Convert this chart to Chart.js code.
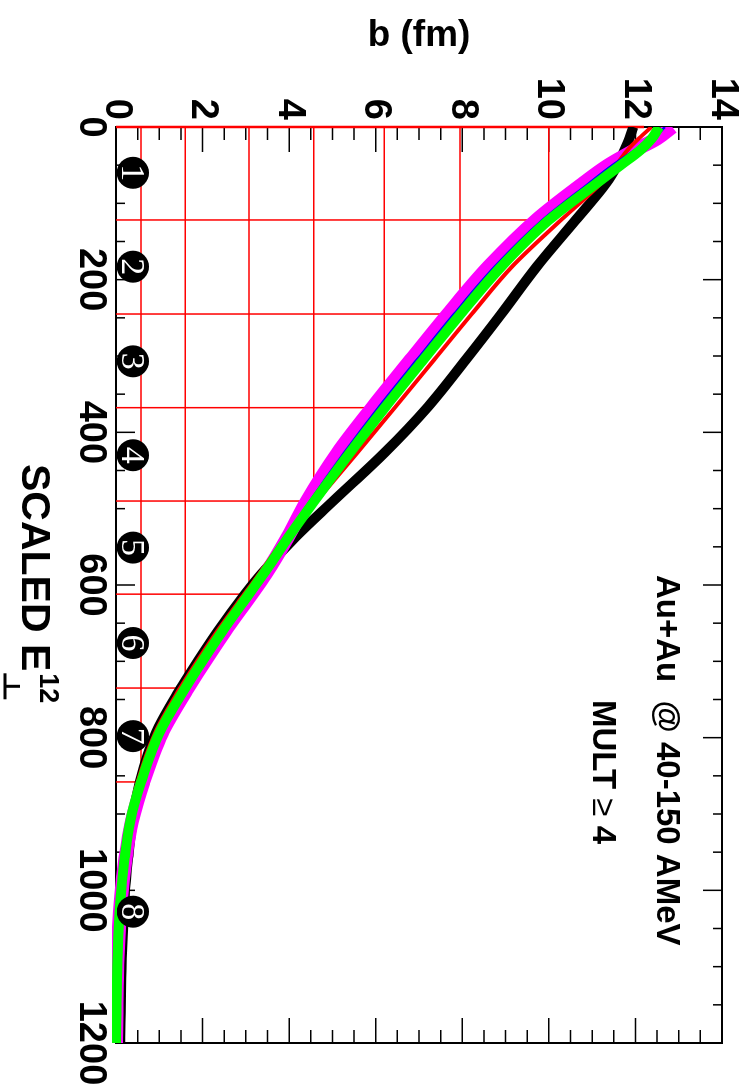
<!DOCTYPE html>
<html lang="en">
<head>
<meta charset="UTF-8">
<title>b vs scaled E12</title>
<script src="https://cdn.jsdelivr.net/npm/chart.js"></script>
<style>
  html, body { margin: 0; padding: 0; background: #fff; overflow: hidden; }
  body { width: 752px; height: 1090px; position: relative; }
  /* the figure is drawn upright and then turned a quarter turn clockwise */
  #wrap { position: absolute; left: 0; top: 0; width: 1090px; height: 752px;
          transform-origin: 0 0; transform: translateX(752px) rotate(90deg); }
</style>
</head>
<body>
<div id="wrap"><canvas id="grafico" width="1090" height="752"></canvas></div>
<script>
// scaled E (x) where the curves were read
const escalaE = [0, 15, 30, 50, 74, 122, 183, 245, 305, 367, 427, 491, 537, 586, 612, 661, 715, 735, 794, 858, 909, 958, 1008, 1082, 1200];

// b (fm) for each curve
const bPreto    = [11.95, 11.86, 11.75, 11.58, 11.32, 10.62, 9.72, 8.9, 8.08, 7.2, 6.2, 5.0, 4.15, 3.35, 2.98, 2.35, 1.72, 1.5, 0.92, 0.55, 0.38, 0.28, 0.2, 0.14, 0.1];
const bVermelho = [12.37, 12.08, 11.82, 11.55, 11.2, 10.28, 9.15, 8.22, 7.35, 6.45, 5.57, 4.62, 3.93, 3.3, 2.96, 2.33, 1.7, 1.48, 0.9, 0.5, 0.3, 0.19, 0.11, 0.05, 0.02];
const bAzul     = [12.68, 12.42, 12.0, 11.47, 10.92, 9.85, 8.75, 7.81, 6.95, 6.07, 5.27, 4.47, 3.93, 3.37, 3.05, 2.44, 1.82, 1.6, 1.0, 0.58, 0.33, 0.2, 0.11, 0.04, 0.0];
const bMagenta  = [12.85, 12.5, 12.0, 11.38, 10.79, 9.71, 8.61, 7.67, 6.81, 5.93, 5.12, 4.4, 3.97, 3.45, 3.13, 2.51, 1.88, 1.66, 1.06, 0.63, 0.37, 0.22, 0.12, 0.04, 0.0];
const bVerde    = [12.55, 12.38, 12.12, 11.66, 11.1, 10.0, 8.9, 7.96, 7.1, 6.22, 5.4, 4.57, 3.99, 3.4, 3.07, 2.45, 1.82, 1.6, 1.0, 0.58, 0.33, 0.2, 0.11, 0.04, 0.0];

// red boxes: bin edge in E and b at that edge
const degrauE = [0, 121.8, 245, 367.7, 490, 612, 735, 858];
const degrauB = [12.2, 10.0, 7.95, 6.2, 4.57, 3.07, 1.6, 0.58];

// numbered markers
const marcasE = [60, 183, 307, 430, 551, 676, 798, 1028];
const marcasTexto = ['1', '2', '3', '4', '5', '6', '7', '8'];
const marcasB = 0.39;

// tick values
const ticksEMaior = [0, 200, 400, 600, 800, 1000, 1200];
const ticksBMaior = [0, 2, 4, 6, 8, 10, 12, 14];
const ticksE = [];
for (let v = 0; v <= 1200; v += 50) ticksE.push(v);
const ticksB = [];
for (let v = 0; v <= 14; v += 0.5) ticksB.push(v);

const FONTE = '"Liberation Sans", Arial, Helvetica, sans-serif';

function pares(ys) {
  return escalaE.map((e, i) => ({ x: e, y: ys[i] }));
}

function curva(ys, cor, largura, ordem) {
  return {
    data: pares(ys), borderColor: cor, borderWidth: largura,
    pointRadius: 0, fill: false, cubicInterpolationMode: 'monotone',
    clip: { left: 0, top: 0, right: 0, bottom: 4 }, order: ordem
  };
}

const datasets = [];
// circles on top
datasets.push({
  data: marcasE.map(e => ({ x: e, y: marcasB })), showLine: false,
  pointRadius: 16, pointBackgroundColor: '#000', pointBorderWidth: 0,
  clip: false, order: 0
});
datasets.push(curva(bVerde, '#00ff00', 10, 1));
datasets.push(curva(bAzul, '#0000ff', 2.5, 2));
datasets.push(curva(bVermelho, '#ff0000', 4, 3));
datasets.push(curva(bMagenta, '#ff00ff', 14, 4));
datasets.push(curva(bPreto, '#000000', 10, 5));
degrauE.forEach((e, i) => {
  datasets.push({
    data: [{ x: 0, y: degrauB[i] }, { x: e, y: degrauB[i] }, { x: e, y: 0 }],
    borderColor: '#ff0000', borderWidth: i === 0 ? 2.5 : 1.5, pointRadius: 0,
    fill: false, tension: 0, clip: false, order: 10
  });
});

// frame with inward ticks on all four sides
const moldura = {
  id: 'moldura',
  beforeDatasetsDraw(chart) {
    const { ctx, chartArea: a, scales: { x, y } } = chart;
    ctx.save();
    ctx.strokeStyle = '#000';
    ctx.lineWidth = 1.5;
    ctx.beginPath();
    ticksE.forEach(v => {
      const px = x.getPixelForValue(v);
      const len = ticksEMaior.includes(v) ? 19 : 9;
      ctx.moveTo(px, a.bottom); ctx.lineTo(px, a.bottom - len);
      ctx.moveTo(px, a.top); ctx.lineTo(px, a.top + len);
    });
    ticksB.forEach(v => {
      const py = y.getPixelForValue(v);
      const len = ticksBMaior.includes(v) ? 25 : 13;
      ctx.moveTo(a.left, py); ctx.lineTo(a.left + len, py);
      ctx.moveTo(a.right, py); ctx.lineTo(a.right - len, py);
    });
    ctx.stroke();
    ctx.lineWidth = 2;
    ctx.strokeRect(a.left, a.top, a.right - a.left, a.bottom - a.top);
    ctx.restore();
  }
};

// axis titles, labels and digits inside the circles
const textos = {
  id: 'textos',
  afterDraw(chart) {
    const { ctx, chartArea: a } = chart;
    ctx.save();
    ctx.fillStyle = '#000';
    ctx.textBaseline = 'alphabetic';

    // y title
    ctx.save();
    ctx.font = 'bold 37px ' + FONTE;
    ctx.translate(46, (a.top + a.bottom) / 2);
    ctx.rotate(-Math.PI / 2);
    ctx.textAlign = 'center';
    ctx.fillText('b (fm)', 0, 0);
    ctx.restore();

    // x title: SCALED E with ⊥ below and 12 above
    ctx.textAlign = 'left';
    ctx.font = 'bold 41px ' + FONTE;
    const x0 = 464;
    ctx.fillText('SCALED E', x0, 730);
    const x1 = x0 + ctx.measureText('SCALED E').width + 2;
    ctx.font = 'bold 27px ' + FONTE;
    ctx.fillText('12', x1, 712);
    ctx.strokeStyle = '#000';
    ctx.lineWidth = 3;
    ctx.beginPath();
    ctx.moveTo(x1, 747); ctx.lineTo(x1 + 26, 747);
    ctx.moveTo(x1 + 13, 747); ctx.lineTo(x1 + 13, 732);
    ctx.stroke();

    // labels inside the plot
    ctx.font = 'bold 33px ' + FONTE;
    ctx.fillText('Au+Au  @ 40-150 AMeV', 575, 95);
    let xm = 700;
    ctx.fillText('MULT ', xm, 159);
    xm += ctx.measureText('MULT ').width;
    ctx.font = '33px ' + FONTE;
    ctx.fillText('\u2265', xm, 159);
    xm += ctx.measureText('\u2265').width;
    ctx.font = 'bold 33px ' + FONTE;
    ctx.fillText(' 4', xm, 159);

    // digits in the circles
    const meta = chart.getDatasetMeta(0);
    ctx.fillStyle = '#fff';
    ctx.textAlign = 'center';
    ctx.textBaseline = 'middle';
    ctx.font = '34px "Liberation Serif", "DejaVu Serif", serif';
    meta.data.forEach((p, i) => {
      ctx.fillText(marcasTexto[i], p.x, p.y + 2);
    });
    ctx.restore();
  }
};

const fonteTick = { family: FONTE, size: 38, weight: 'bold' };

new Chart(document.getElementById('grafico'), {
  type: 'line',
  data: { datasets: datasets },
  options: {
    responsive: false,
    animation: false,
    devicePixelRatio: 1,
    layout: { padding: { top: 30, right: 47, left: 0, bottom: 0 } },
    plugins: { legend: { display: false }, tooltip: { enabled: false } },
    scales: {
      x: {
        type: 'linear', min: 0, max: 1200,
        ticks: { stepSize: 200, padding: 3, maxRotation: 0, autoSkip: false, color: '#000', font: fonteTick,
                 callback: v => String(v) },
        grid: { display: false, drawTicks: false },
        border: { display: false },
        afterFit(s) { s.height = 116; }
      },
      y: {
        type: 'linear', min: 0, max: 14,
        ticks: { stepSize: 2, padding: 7, autoSkip: false, color: '#000', font: fonteTick,
                 callback: v => String(v) },
        grid: { display: false, drawTicks: false },
        border: { display: false },
        afterFit(s) { s.width = 127; }
      }
    }
  },
  plugins: [moldura, textos]
});
</script>
</body>
</html>
